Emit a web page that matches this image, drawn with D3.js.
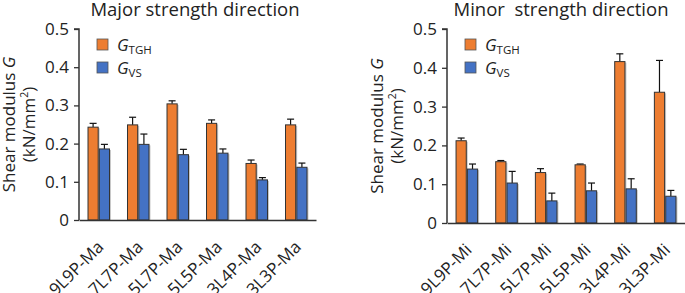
<!DOCTYPE html>
<html>
<head>
  <script src="https://cdn.jsdelivr.net/npm/d3@7"></script>
  <style>
    body { margin: 0; background: #fff; }
    text { font-family: "Open Sans", sans-serif; fill: #222; }
  </style>
</head>
<body>
  <svg width="685" height="293" id="mainsvg"></svg>
  <script>
    // data
    const majorCats = ['9L9P-Ma', '7L7P-Ma', '5L7P-Ma', '5L5P-Ma', '3L4P-Ma', '3L3P-Ma'];
    const majorTGH = [0.243, 0.249, 0.304, 0.253, 0.148, 0.249];
    const majorTGHErr = [0.010, 0.020, 0.008, 0.009, 0.009, 0.015];
    const majorVS = [0.186, 0.198, 0.171, 0.175, 0.105, 0.138];
    const majorVSErr = [0.012, 0.027, 0.014, 0.011, 0.006, 0.011];

    const minorCats = ['9L9P-Mi', '7L7P-Mi', '5L7P-Mi', '5L5P-Mi', '3L4P-Mi', '3L3P-Mi'];
    const minorTGH = [0.212, 0.158, 0.130, 0.150, 0.416, 0.337];
    const minorTGHErr = [0.007, 0.003, 0.010, 0.002, 0.020, 0.082];
    const minorVS = [0.139, 0.103, 0.057, 0.083, 0.088, 0.069];
    const minorVSErr = [0.013, 0.030, 0.020, 0.020, 0.026, 0.015];

    const yTicks = [0, 0.1, 0.2, 0.3, 0.4, 0.5];
    const seriesKeys = ['TGH', 'VS'];
    const colors = {TGH: '#ED7D31', VS: '#4472C4'};

    const svg = d3.select('svg');

    const drawPanel = function(cfg) {
      const g = svg.append('g');
      const xScale = d3.scaleBand().domain(cfg.cats).range([cfg.x0, cfg.x1])
        .paddingInner(0.456).paddingOuter(0.228);
      const x1 = d3.scaleBand().domain(seriesKeys).range([0, xScale.bandwidth()]).paddingInner(0.1);
      const yScale = d3.scaleLinear().domain([0, 0.5]).range([cfg.y0, cfg.y1]);

      const rows = [];
      cfg.cats.forEach((c, i) => {
        rows.push({cat: c, key: 'TGH', v: cfg.tgh[i], e: cfg.tghErr[i]});
        rows.push({cat: c, key: 'VS', v: cfg.vs[i], e: cfg.vsErr[i]});
      });

      // error bars (upper only)
      const eb = g.selectAll('.err').data(rows).join('g').attr('class', 'err')
        .attr('stroke', '#111').attr('stroke-width', 1.2);
      eb.append('line')
        .attr('x1', d => xScale(d.cat) + x1(d.key) + x1.bandwidth() / 2)
        .attr('x2', d => xScale(d.cat) + x1(d.key) + x1.bandwidth() / 2)
        .attr('y1', d => yScale(d.v)).attr('y2', d => yScale(d.v + d.e));
      eb.append('line')
        .attr('x1', d => xScale(d.cat) + x1(d.key) + x1.bandwidth() / 2 - 3.5)
        .attr('x2', d => xScale(d.cat) + x1(d.key) + x1.bandwidth() / 2 + 3.5)
        .attr('y1', d => yScale(d.v + d.e)).attr('y2', d => yScale(d.v + d.e));

      // soft shadow then bars
      g.selectAll('.shadow').data(rows).join('rect').attr('class', 'shadow')
        .attr('x', d => xScale(d.cat) + x1(d.key) + 1.5)
        .attr('y', d => yScale(d.v) + 1)
        .attr('width', x1.bandwidth())
        .attr('height', d => cfg.y0 - yScale(d.v) - 1)
        .attr('fill', '#c8c8c8');
      g.selectAll('.bar').data(rows).join('rect').attr('class', 'bar')
        .attr('x', d => xScale(d.cat) + x1(d.key))
        .attr('y', d => yScale(d.v))
        .attr('width', x1.bandwidth())
        .attr('height', d => cfg.y0 - yScale(d.v))
        .attr('fill', d => colors[d.key])
        .attr('stroke', '#333').attr('stroke-width', 1);

      // axes
      const yAxis = d3.axisLeft(yScale).tickValues(yTicks).tickSize(5).tickPadding(5)
        .tickFormat(d => d === 0 ? '0' : d3.format('.1f')(d));
      const yAxisGroup = g.append('g').attr('transform', `translate(${cfg.x0}, 0)`).call(yAxis);
      yAxisGroup.select('.domain').attr('stroke', '#333').attr('stroke-width', 1.5)
        .attr('d', `M-5,${cfg.y1}H0V${cfg.y0}`);
      yAxisGroup.selectAll('.tick line').attr('stroke', '#333').attr('stroke-width', 1.3);
      yAxisGroup.selectAll('.tick text').attr('font-size', '17px')
        .attr('font-family', '"Open Sans", sans-serif').attr('fill', '#222');

      const xAxis = d3.axisBottom(xScale).tickSize(0).tickPadding(0);
      const xAxisGroup = g.append('g').attr('transform', `translate(0, ${cfg.y0})`).call(xAxis);
      xAxisGroup.select('.domain').attr('stroke', '#333').attr('stroke-width', 1.5);
      xAxisGroup.selectAll('.tick text')
        .attr('font-size', '17px').attr('font-family', '"Open Sans", sans-serif').attr('fill', '#222')
        .attr('text-anchor', 'end').attr('dy', null).attr('y', 0)
        .attr('transform', 'translate(6, 28) rotate(-45)');

      // title
      g.append('text').text(cfg.title)
        .attr('x', cfg.titleX).attr('y', 16).attr('text-anchor', 'middle')
        .attr('font-size', '18.5px').style('white-space', 'pre');

      // y title
      const yMid = (cfg.y0 + cfg.y1) / 2;
      const yt = g.append('text').attr('text-anchor', 'middle')
        .attr('transform', `translate(${cfg.x0 - 64}, ${yMid}) rotate(-90)`)
        .attr('font-size', '17px');
      yt.append('tspan').text('Shear modulus ');
      yt.append('tspan').text('G').attr('font-style', 'italic');
      const yt2 = g.append('text').attr('text-anchor', 'middle')
        .attr('transform', `translate(${cfg.x0 - 44}, ${yMid}) rotate(-90)`)
        .attr('font-size', '17px');
      yt2.append('tspan').text('(kN/mm');
      yt2.append('tspan').text('2').attr('font-size', '10.5px').attr('dy', -7);
      yt2.append('tspan').text(')').attr('dy', 7);

      // legend
      const lg = g.append('g').attr('transform', `translate(${cfg.x0 + 18}, 39)`);
      seriesKeys.forEach((k, i) => {
        const row = lg.append('g').attr('transform', `translate(0, ${i * 23})`);
        row.append('rect').attr('width', 11).attr('height', 11)
          .attr('fill', colors[k]).attr('stroke', '#555').attr('stroke-width', 0.8);
        const t = row.append('text').attr('x', 20).attr('y', 12).attr('font-size', '17px');
        t.append('tspan').text('G').attr('font-style', 'italic');
        t.append('tspan').text(k).attr('font-size', '11.5px').attr('dy', 3);
      });
    };

    drawPanel({
      cats: majorCats, tgh: majorTGH, tghErr: majorTGHErr, vs: majorVS, vsErr: majorVSErr,
      x0: 79, x1: 316, y0: 220, y1: 29, title: 'Major strength direction', titleX: 195
    });
    drawPanel({
      cats: minorCats, tgh: minorTGH, tghErr: minorTGHErr, vs: minorVS, vsErr: minorVSErr,
      x0: 447, x1: 685, y0: 223, y1: 29, title: 'Minor  strength direction', titleX: 561
    });
  </script>
</body>
</html>
